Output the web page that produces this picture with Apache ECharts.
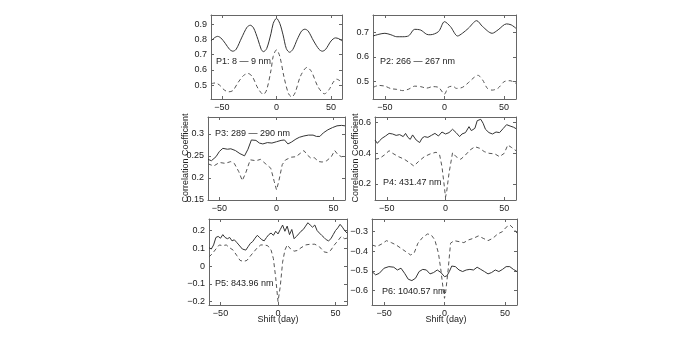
<!DOCTYPE html>
<html><head><meta charset="utf-8">
<script src="https://cdn.jsdelivr.net/npm/echarts@6/dist/echarts.min.js"></script>
<style>html,body{margin:0;background:#fff}#main{width:698px;height:342px}</style>
</head><body><div id="main"></div>
<script>
// shift (day) on x, correlation coefficient on y; [shift, value]
const shiftTicks = [-50, 0, 50];

const p1Solid = [[-60,0.79],[-57,0.81],[-54,0.82],[-51,0.81],[-47,0.775],[-43,0.735],[-40,0.723],[-37,0.735],[-32,0.81],[-27,0.88],[-24,0.893],[-21,0.875],[-17,0.8],[-14,0.735],[-12,0.72],[-9,0.74],[-5,0.84],[-3,0.905],[0,0.938],[3,0.905],[6,0.83],[9,0.74],[12,0.716],[15,0.735],[19,0.8],[23,0.855],[26,0.867],[29,0.855],[34,0.79],[39,0.735],[42,0.723],[45,0.735],[50,0.79],[54,0.81],[57,0.805],[60,0.79]];
const p1Dashed = [[-60,0.51],[-56,0.515],[-52,0.5],[-48,0.47],[-44,0.457],[-40,0.465],[-35,0.52],[-30,0.565],[-26,0.577],[-22,0.555],[-17,0.48],[-12,0.44],[-9,0.47],[-5,0.6],[-3,0.69],[0,0.732],[3,0.69],[7,0.55],[11,0.445],[14,0.424],[17,0.45],[22,0.56],[28,0.617],[32,0.59],[38,0.49],[44,0.444],[48,0.47],[52,0.52],[55,0.54],[58,0.53],[60,0.517]];

const p2Solid = [[-60,0.685],[-55,0.692],[-50,0.696],[-45,0.69],[-40,0.682],[-35,0.682],[-30,0.686],[-25,0.712],[-20,0.709],[-15,0.692],[-12,0.69],[-5,0.703],[0,0.743],[5,0.723],[11,0.685],[15,0.696],[20,0.716],[27,0.747],[32,0.723],[40,0.696],[45,0.71],[52,0.734],[56,0.73],[60,0.716]];
const p2Dashed = [[-60,0.477],[-55,0.485],[-50,0.482],[-45,0.472],[-40,0.469],[-35,0.464],[-30,0.47],[-25,0.482],[-20,0.48],[-15,0.474],[-10,0.48],[-5,0.477],[0,0.45],[3,0.477],[7,0.482],[10,0.473],[15,0.477],[20,0.496],[25,0.518],[28,0.526],[32,0.507],[36,0.473],[40,0.466],[45,0.474],[50,0.5],[55,0.504],[60,0.493]];

const p3Solid = [[-60,0.242],[-57,0.239],[-53,0.248],[-50,0.26],[-47,0.267],[-43,0.265],[-40,0.266],[-36,0.262],[-32,0.255],[-28,0.25],[-25,0.265],[-22,0.286],[-18,0.285],[-15,0.279],[-12,0.277],[-8,0.28],[-4,0.279],[0,0.282],[4,0.285],[7,0.286],[10,0.277],[13,0.281],[17,0.288],[20,0.292],[24,0.295],[28,0.297],[32,0.297],[35,0.294],[38,0.294],[41,0.302],[45,0.309],[49,0.314],[53,0.318],[57,0.319],[60,0.318]];
const p3Dashed = [[-60,0.232],[-55,0.227],[-50,0.235],[-45,0.233],[-40,0.237],[-37,0.233],[-33,0.214],[-30,0.194],[-27,0.211],[-23,0.241],[-18,0.239],[-14,0.242],[-10,0.233],[-5,0.222],[-2,0.192],[0,0.173],[2,0.192],[5,0.23],[8,0.241],[13,0.247],[17,0.248],[21,0.256],[24,0.262],[27,0.252],[30,0.245],[33,0.246],[37,0.237],[40,0.236],[44,0.239],[48,0.248],[51,0.262],[54,0.252],[57,0.248],[60,0.25]];

const p4Solid = [[-60,0.487],[-58,0.465],[-56,0.483],[-54,0.498],[-51,0.513],[-48,0.53],[-45,0.526],[-42,0.517],[-39,0.522],[-36,0.509],[-34,0.53],[-32,0.504],[-30,0.491],[-28,0.52],[-25,0.487],[-22,0.47],[-20,0.498],[-18,0.509],[-15,0.504],[-12,0.517],[-9,0.53],[-6,0.513],[-3,0.539],[0,0.526],[3,0.535],[6,0.557],[9,0.535],[12,0.509],[14,0.526],[17,0.535],[20,0.574],[22,0.548],[25,0.563],[27,0.613],[30,0.622],[32,0.596],[34,0.557],[37,0.535],[40,0.526],[43,0.539],[46,0.535],[49,0.561],[52,0.587],[55,0.578],[58,0.57],[60,0.561]];
const p4Dashed = [[-60,0.361],[-56,0.367],[-52,0.389],[-48,0.417],[-45,0.4],[-40,0.378],[-35,0.361],[-30,0.335],[-27,0.317],[-23,0.346],[-18,0.378],[-13,0.396],[-8,0.407],[-5,0.389],[-3,0.313],[-1,0.183],[0,0.113],[1,0.15],[3,0.27],[6,0.404],[9,0.378],[13,0.361],[17,0.389],[21,0.422],[25,0.443],[29,0.433],[33,0.411],[37,0.4],[42,0.396],[46,0.378],[50,0.4],[53,0.454],[56,0.439],[60,0.417]];

const p5Solid = [[-60,0.103],[-58,0.096],[-56,0.119],[-54,0.161],[-52,0.167],[-50,0.157],[-48,0.177],[-46,0.161],[-44,0.154],[-42,0.161],[-40,0.142],[-38,0.148],[-36,0.134],[-34,0.119],[-31,0.096],[-28,0.09],[-26,0.109],[-24,0.128],[-22,0.138],[-20,0.157],[-18,0.173],[-16,0.161],[-14,0.148],[-12,0.142],[-10,0.161],[-8,0.177],[-6,0.186],[-4,0.173],[-2,0.196],[0,0.181],[2,0.206],[4,0.231],[6,0.196],[8,0.225],[10,0.177],[12,0.206],[14,0.154],[16,0.167],[18,0.181],[20,0.196],[22,0.206],[24,0.225],[26,0.244],[28,0.231],[30,0.219],[32,0.231],[34,0.2],[36,0.186],[38,0.173],[40,0.161],[42,0.148],[44,0.142],[46,0.154],[48,0.177],[50,0.2],[52,0.215],[54,0.235],[56,0.219],[58,0.2],[60,0.186]];
const p5Dashed = [[-60,0.051],[-57,0.071],[-54,0.096],[-51,0.119],[-48,0.115],[-45,0.119],[-42,0.103],[-39,0.09],[-36,0.061],[-33,0.032],[-30,0.026],[-27,0.032],[-24,0.057],[-21,0.08],[-18,0.103],[-15,0.119],[-12,0.119],[-9,0.115],[-6,0.09],[-4,0.042],[-2,-0.065],[0,-0.2],[2,-0.113],[4,0.022],[6,0.09],[8,0.119],[11,0.096],[14,0.084],[17,0.088],[20,0.103],[24,0.119],[28,0.123],[32,0.123],[36,0.109],[40,0.08],[43,0.076],[46,0.09],[49,0.119],[52,0.142],[55,0.167],[58,0.154],[60,0.157]];

const p6Solid = [[-60,-0.503],[-57,-0.52],[-54,-0.512],[-50,-0.486],[-46,-0.478],[-42,-0.481],[-39,-0.495],[-36,-0.486],[-33,-0.512],[-30,-0.542],[-27,-0.549],[-24,-0.537],[-21,-0.503],[-18,-0.492],[-15,-0.495],[-12,-0.515],[-9,-0.508],[-6,-0.495],[-3,-0.508],[0,-0.529],[2,-0.525],[4,-0.503],[6,-0.475],[9,-0.478],[12,-0.495],[15,-0.503],[18,-0.495],[21,-0.492],[24,-0.495],[27,-0.481],[30,-0.492],[33,-0.503],[36,-0.515],[39,-0.508],[42,-0.495],[45,-0.503],[48,-0.492],[51,-0.478],[54,-0.478],[57,-0.492],[60,-0.503]];
const p6Dashed = [[-60,-0.368],[-56,-0.376],[-52,-0.363],[-48,-0.346],[-44,-0.356],[-40,-0.368],[-36,-0.385],[-32,-0.402],[-28,-0.419],[-25,-0.407],[-22,-0.359],[-18,-0.329],[-14,-0.312],[-11,-0.317],[-8,-0.342],[-5,-0.41],[-3,-0.495],[-1,-0.597],[0,-0.639],[1,-0.605],[3,-0.495],[5,-0.359],[8,-0.346],[12,-0.351],[16,-0.356],[20,-0.342],[24,-0.334],[28,-0.322],[32,-0.334],[36,-0.346],[40,-0.334],[44,-0.312],[48,-0.3],[51,-0.278],[54,-0.266],[57,-0.283],[60,-0.308]];

const p1Ticks = [0.5, 0.6, 0.7, 0.8, 0.9];
const p2Ticks = [0.5, 0.6, 0.7];
const p3Ticks = [0.15, 0.2, 0.25, 0.3];
const p4Ticks = [0.2, 0.4, 0.6];
const p5Ticks = [-0.2, -0.1, 0, 0.1, 0.2];
const p6Ticks = [-0.6, -0.5, -0.4, -0.3];

const panelNames = ['P1: 8 \u2014 9 nm', 'P2: 266 \u2014 267 nm', 'P3: 289 \u2014 290 nm', 'P4: 431.47 nm', 'P5: 843.96 nm', 'P6: 1040.57 nm'];

const panels = [
  { box: [211, 15, 131, 84], range: [0.41, 0.96], ticks: p1Ticks, solid: p1Solid, dashed: p1Dashed, smooth: 0.3, at: [216, 62] },
  { box: [373, 15, 143, 84], range: [0.43, 0.77], ticks: p2Ticks, solid: p2Solid, dashed: p2Dashed, smooth: 0.3, at: [380, 62] },
  { box: [208, 117, 137, 83], range: [0.15, 0.338], ticks: p3Ticks, solid: p3Solid, dashed: p3Dashed, smooth: 0, at: [215, 134] },
  { box: [375, 117, 141, 83], range: [0.095, 0.637], ticks: p4Ticks, solid: p4Solid, dashed: p4Dashed, smooth: 0, at: [383, 183] },
  { box: [209, 219, 138, 86], range: [-0.219, 0.265], ticks: p5Ticks, solid: p5Solid, dashed: p5Dashed, smooth: 0, at: [215, 284] },
  { box: [372, 219, 145, 86], range: [-0.673, -0.236], ticks: p6Ticks, solid: p6Solid, dashed: p6Dashed, smooth: 0, at: [382, 292] }
];

const ink = '#222';
const frame = '#666';
const font = 'Liberation Sans, Arial, sans-serif';
const fmt = v => String(+v.toFixed(2)).replace('-', '\u2212');

const grid = [], xAxis = [], yAxis = [], series = [], graphic = [];
panels.forEach((p, i) => {
  const [l, t, w, h] = p.box;
  grid.push({ left: l, top: t, width: w, height: h });
  const tick = { show: true, inside: true, length: 3, lineStyle: { color: frame } };
  const line = { show: true, onZero: false, lineStyle: { color: frame, width: 1 } };
  [['bottom', true], ['top', false]].forEach(([pos, lab]) => {
    xAxis.push({
      type: 'value', gridIndex: i, position: pos, min: -60, max: 60,
      axisLine: line, axisTick: Object.assign({ customValues: shiftTicks }, tick),
      axisLabel: { show: lab, customValues: shiftTicks, formatter: fmt, color: ink, fontSize: 9, fontFamily: font, margin: 4 },
      splitLine: { show: false }
    });
  });
  [['left', true], ['right', false]].forEach(([pos, lab]) => {
    yAxis.push({
      type: 'value', gridIndex: i, position: pos, min: p.range[0], max: p.range[1],
      axisLine: line, axisTick: Object.assign({ customValues: p.ticks }, tick),
      axisLabel: { show: lab, customValues: p.ticks, formatter: fmt, color: ink, fontSize: 9, fontFamily: font, margin: 4 },
      splitLine: { show: false }
    });
  });
  series.push({
    type: 'line', xAxisIndex: 2 * i, yAxisIndex: 2 * i, data: p.solid, showSymbol: false,
    smooth: p.smooth, lineStyle: { color: '#333', width: 1 }, silent: true
  });
  series.push({
    type: 'line', xAxisIndex: 2 * i, yAxisIndex: 2 * i, data: p.dashed, showSymbol: false,
    smooth: p.smooth, lineStyle: { color: '#555', width: 1, type: [4, 3] }, silent: true
  });
  graphic.push({
    type: 'text', x: p.at[0], y: p.at[1],
    style: { text: panelNames[i], fill: ink, font: '9px ' + font, textVerticalAlign: 'middle' }
  });
});

graphic.push({ type: 'text', x: 186, y: 158, rotation: Math.PI / 2,
  style: { text: 'Correlation Coefficient', fill: ink, font: '9px ' + font, textAlign: 'center', textVerticalAlign: 'middle' } });
graphic.push({ type: 'text', x: 356, y: 158, rotation: Math.PI / 2,
  style: { text: 'Correlation Coefficient', fill: ink, font: '9px ' + font, textAlign: 'center', textVerticalAlign: 'middle' } });
graphic.push({ type: 'text', x: 278, y: 320,
  style: { text: 'Shift (day)', fill: ink, font: '9px ' + font, textAlign: 'center', textVerticalAlign: 'middle' } });
graphic.push({ type: 'text', x: 446, y: 320,
  style: { text: 'Shift (day)', fill: ink, font: '9px ' + font, textAlign: 'center', textVerticalAlign: 'middle' } });

const chart = echarts.init(document.getElementById('main'));
chart.setOption({ animation: false, grid, xAxis, yAxis, series, graphic });
</script></body></html>
